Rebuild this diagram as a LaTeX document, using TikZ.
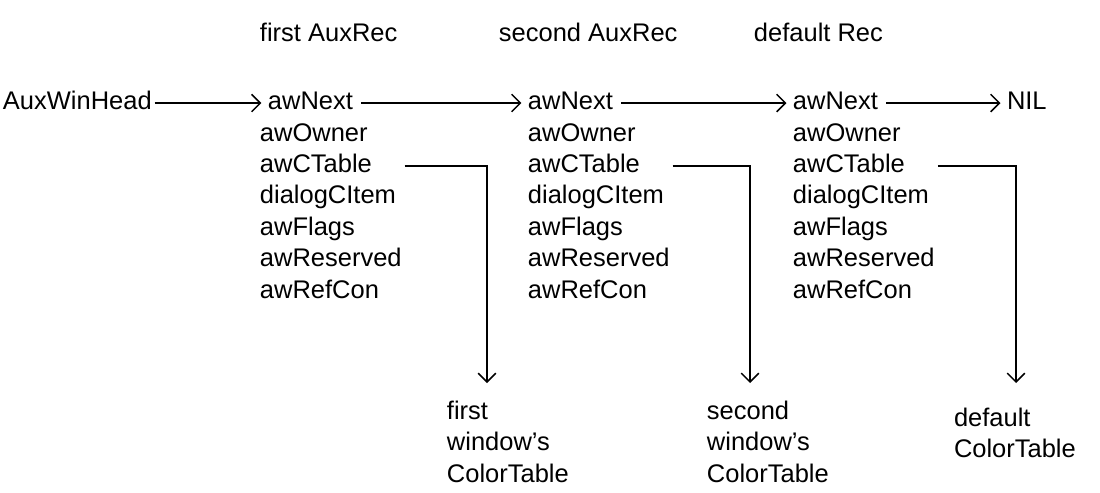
\documentclass[tikz,border=0pt]{standalone}
\usepackage{fontspec}
\setmainfont{Liberation Sans}
\usepackage{tikz}
\usetikzlibrary{arrows.meta,positioning}

\begin{document}
\begin{tikzpicture}[
  fld/.style={anchor=north west, inner sep=1.5pt, text height=11pt, text depth=3.5pt,
              font=\fontsize{14.5}{17.5}\selectfont},
  hdr/.style={anchor=west, inner sep=1.5pt, font=\fontsize{14.5}{17.5}\selectfont},
  tbl/.style={anchor=north west, inner sep=1.5pt, align=left,
              font=\fontsize{14.5}{17.8}\selectfont},
  arr/.style={-{Straight Barb[length=5pt,width=10pt]}, line width=0.9pt},
  link/.style={arr, shorten <=3pt, shorten >=2pt},
  drop/.style={arr, shorten <=17pt}
]
\useasboundingbox (0,0) rectangle (22,-9.84);

% record headings
\node[hdr] (hdrA) at (5.14,-0.64) {first AuxRec};
\node[hdr] (hdrB) at (9.92,-0.64) {second AuxRec};
\node[hdr] (hdrC) at (15.02,-0.64) {default Rec};

% list head
\node[fld, anchor=west] (head) at (0.0,-2.06) {AuxWinHead};

% first AuxRec
\node[fld, anchor=west] (nextA) at (5.3,-2.06) {awNext};
\node[fld] (ownA) at ([xshift=-0.16cm]nextA.south west) {awOwner};
\node[fld] (ctabA) at (ownA.south west) {awCTable};
\node[fld] (itemA) at (ctabA.south west) {dialogCItem};
\node[fld] (flagA) at (itemA.south west) {awFlags};
\node[fld] (resA) at (flagA.south west) {awReserved};
\node[fld] (refA) at (resA.south west) {awRefCon};

% second AuxRec
\node[fld, anchor=west] (nextB) at (10.5,-2.06) {awNext};
\node[fld] (ownB) at (nextB.south west) {awOwner};
\node[fld] (ctabB) at (ownB.south west) {awCTable};
\node[fld] (itemB) at (ctabB.south west) {dialogCItem};
\node[fld] (flagB) at (itemB.south west) {awFlags};
\node[fld] (resB) at (flagB.south west) {awReserved};
\node[fld] (refB) at (resB.south west) {awRefCon};

% default Rec
\node[fld, anchor=west] (nextC) at (15.8,-2.06) {awNext};
\node[fld] (ownC) at (nextC.south west) {awOwner};
\node[fld] (ctabC) at (ownC.south west) {awCTable};
\node[fld] (itemC) at (ctabC.south west) {dialogCItem};
\node[fld] (flagC) at (itemC.south west) {awFlags};
\node[fld] (resC) at (flagC.south west) {awReserved};
\node[fld] (refC) at (resC.south west) {awRefCon};

\node[fld, anchor=west] (nil) at (20.08,-2.06) {NIL};

% color tables
\node[tbl] (tblA) at (8.88,-7.96) {first\\window’s\\ColorTable};
\node[tbl] (tblB) at (14.08,-7.96) {second\\window’s\\ColorTable};
\node[tbl] (tblC) at (19.02,-8.1) {default\\ColorTable};

\coordinate (dropA) at (9.74,-7.66);
\coordinate (dropB) at (15.0,-7.66);
\coordinate (dropC) at (20.32,-7.66);

\draw[link, shorten <=0pt] (head) -- (nextA);
\draw[link] (nextA) -- (nextB);
\draw[link] (nextB) -- (nextC);
\draw[link] (nextC) -- (nil);

\draw[drop] (ctabA.east) -| (dropA);
\draw[drop] (ctabB.east) -| (dropB);
\draw[drop] (ctabC.east) -| (dropC);
\end{tikzpicture}
\end{document}
